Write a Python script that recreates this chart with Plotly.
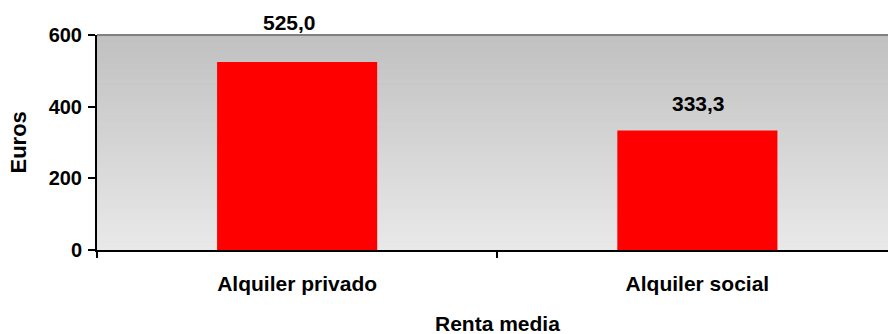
import plotly.graph_objects as go

categories = ["Alquiler privado", "Alquiler social"]
values = [525.0, 333.3]
y_ticks = [0, 200, 400, 600]
y_title = "Euros"
x_title = "Renta media"

FONT = "Liberation Sans, Arial, sans-serif"
# label placement styling (pixel offsets, not data)
label_yshift = [26, 14]
label_xshift = [-8, 1]

fig = go.Figure()
fig.add_trace(go.Bar(
    x=categories, y=values,
    marker=dict(color="#ff0000", line=dict(width=0)),
    width=0.4,
    hoverinfo="skip",
))

# gradient background bands
shapes = []
n = 60
top_c, bot_c = 192, 233
for i in range(n):
    f0, f1 = i / n, (i + 1) / n
    c = round(bot_c + (top_c - bot_c) * (f0 + f1) / 2)
    shapes.append(dict(type="rect", xref="paper", yref="paper",
                       x0=0, x1=1, y0=f0, y1=f1 + 0.002,
                       fillcolor=f"rgb({c},{c},{c})", line=dict(width=0),
                       layer="below"))
shapes.append(dict(type="line", xref="paper", yref="paper", x0=0, x1=1,
                   y0=1, y1=1, line=dict(color="#808080", width=2), layer="above"))

annotations = []
for c, v, ys, xs in zip(categories, values, label_yshift, label_xshift):
    annotations.append(dict(x=c, y=v, xref="x", yref="y",
                             text=f"{v:.1f}".replace(".", ","),
                             showarrow=False, yanchor="bottom", yshift=ys, xshift=xs,
                             font=dict(family=FONT, size=21, color="black",
                                       weight="bold")))
annotations.append(dict(x=0.5, y=0, xref="x", yref="paper", text=x_title,
                        showarrow=False, yanchor="middle", yshift=-73,
                        font=dict(family=FONT, size=21, color="black", weight="bold")))
annotations.append(dict(x=0, y=300, xref="paper", yref="y", text=y_title,
                        showarrow=False, textangle=-90, xanchor="center",
                        yanchor="middle", xshift=-79,
                        font=dict(family=FONT, size=22, color="black", weight="bold")))

fig.update_layout(
    width=888, height=334,
    margin=dict(l=97, r=0, t=35, b=84),
    paper_bgcolor="white", plot_bgcolor="#e0e0e0",
    showlegend=False,
    bargap=0.6,
    shapes=shapes,
    annotations=annotations,
    font=dict(family=FONT, size=20, color="black"),
)
fig.update_xaxes(
    range=[-0.5, -0.5 + 790.5 / 400],
    showline=True, linecolor="black", linewidth=2,
    ticks="outside", tickson="boundaries", ticklen=6, tickwidth=1.5, tickcolor="black",
    tickfont=dict(family=FONT, size=21, color="black", weight="bold"),
    showgrid=False, zeroline=False,
    ticklabelstandoff=14,
)
fig.update_yaxes(
    range=[0, 600], tickvals=y_ticks,
    showline=True, linecolor="black", linewidth=2,
    ticks="outside", ticklen=7, tickwidth=1.5, tickcolor="black",
    tickfont=dict(family=FONT, size=20, color="black", weight="bold"),
    showgrid=False, zeroline=False,
    ticklabelstandoff=2,
)

fig.write_html("out.html")
